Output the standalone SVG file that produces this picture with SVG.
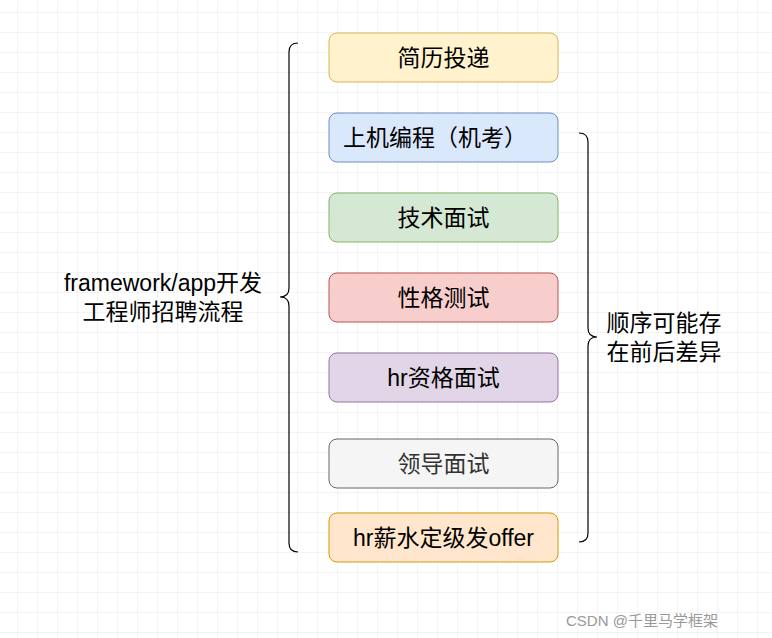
<svg xmlns="http://www.w3.org/2000/svg" width="772" height="638" viewBox="0 0 772 638">
<defs>
<pattern id="g" width="20" height="20" patternUnits="userSpaceOnUse" x="-2" y="-7"><path d="M20 0V20M0 20H20" fill="none" stroke="#e8e8e8" stroke-width="1"/></pattern>
<style>
.t{font-family:"Liberation Sans","Noto Sans CJK SC",sans-serif;font-size:23px;fill:#000;text-anchor:middle}
.br{fill:none;stroke:#000;stroke-width:1.2}
</style>
</defs>
<rect width="772" height="638" fill="#fff"/>
<rect width="772" height="638" fill="url(#g)"/>
<g id="n1"><rect x="329" y="33" width="229" height="49" rx="8" fill="#fff2cc" stroke="#d6b656"/><text class="t" x="443.5" y="66">简历投递</text></g>
<g id="n2"><rect x="329" y="113" width="229" height="49" rx="8" fill="#dae8fc" stroke="#6c8ebf"/><text class="t" x="435" y="146">上机编程（机考）</text></g>
<g id="n3"><rect x="329" y="193" width="229" height="49" rx="8" fill="#d5e8d4" stroke="#82b366"/><text class="t" x="443.5" y="226">技术面试</text></g>
<g id="n4"><rect x="329" y="273" width="229" height="49" rx="8" fill="#f8cecc" stroke="#b85450"/><text class="t" x="443.5" y="306">性格测试</text></g>
<g id="n5"><rect x="329" y="353" width="229" height="49" rx="8" fill="#e1d5e7" stroke="#9673a6"/><text class="t" x="443.5" y="386">hr资格面试</text></g>
<g id="n6"><rect x="329" y="439" width="229" height="49" rx="8" fill="#f5f5f5" stroke="#666666"/><text class="t" x="443.5" y="472" style="fill:#333">领导面试</text></g>
<g id="n7"><rect x="329" y="513" width="229" height="49" rx="8" fill="#ffe6cc" stroke="#d79b00"/><text class="t" x="443.5" y="546">hr薪水定级发offer</text></g>
<g id="connectors">
<path class="br" d="M298 43 Q289 43 289 52 V288 Q289 297 280 297 Q289 297 289 306 V543 Q289 552 298 552"/>
<path class="br" d="M579 133 Q588 133 588 142 V328 Q588 337 597 337 Q588 337 588 346 V533 Q588 542 579 542"/>
</g>
<g id="lbl-left"><text class="t" x="163" y="291">framework/app开发</text><text class="t" x="163" y="320">工程师招聘流程</text></g>
<g id="lbl-right"><text class="t" x="664" y="331">顺序可能存</text><text class="t" x="664" y="360">在前后差异</text></g>
<text x="566" y="626" style="font-family:'Liberation Sans','Noto Sans CJK SC',sans-serif;font-size:15px;fill:#999">CSDN @千里马学框架</text>
</svg>
